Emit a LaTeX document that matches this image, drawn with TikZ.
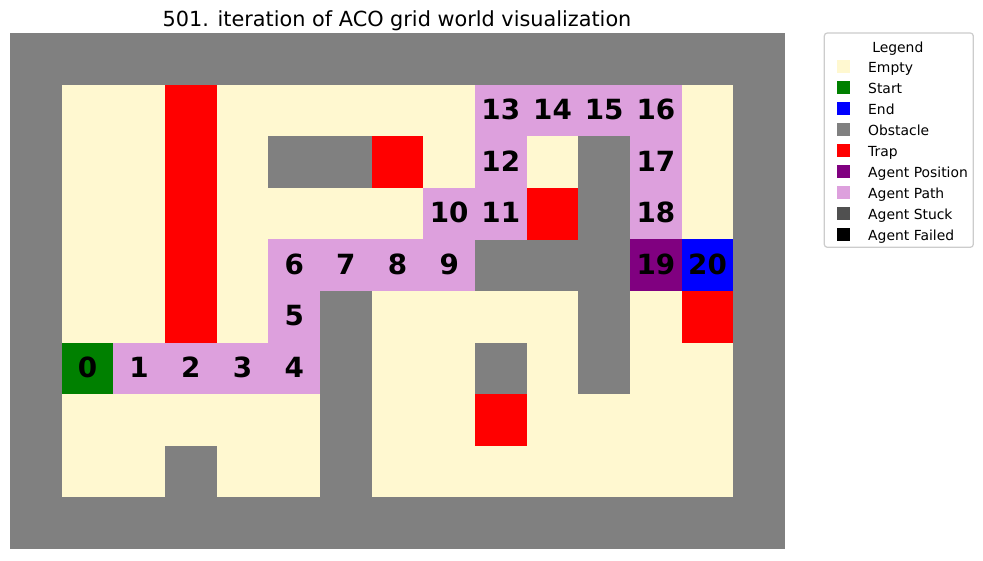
\documentclass[tikz,border=0pt]{standalone}
\usepackage{fontspec}
\setmainfont{DejaVu Sans}
\definecolor{emptyc}{HTML}{FFF8D0}
\definecolor{startc}{HTML}{008000}
\definecolor{endc}{HTML}{0000FF}
\definecolor{obstc}{HTML}{808080}
\definecolor{trapc}{HTML}{FF0000}
\definecolor{posc}{HTML}{800080}
\definecolor{pathc}{HTML}{DDA0DD}
\definecolor{stuckc}{HTML}{505050}
\definecolor{failc}{HTML}{000000}
\definecolor{legframe}{HTML}{CCCCCC}
\newcommand\gcell[4]{%
  \node[cell,fill=#3] (c#1x#2) at ({10+51.667*(#2+0.5)},{33+51.6*(#1+0.5)}) {#4};}
\begin{document}
\begin{tikzpicture}[x=1pt,y=-1pt,
  cell/.style={rectangle,minimum width=51.9pt,minimum height=51.8pt,inner sep=0pt,outer sep=0pt,
    text height=20.3pt,text depth=2pt,font=\fontsize{27.8}{30}\selectfont\bfseries,text=black},
  legsq/.style={rectangle,minimum width=12.5pt,minimum height=12.5pt,inner sep=0pt},
  legtxt/.style={inner sep=0pt,font=\fontsize{13.9}{16}\selectfont,anchor=base west},
  titletxt/.style={inner sep=0pt,font=\fontsize{20.8}{24}\selectfont,anchor=base}]
\useasboundingbox (0,0) rectangle (983,560);
\fill[white] (0,0) rectangle (983,560);
% title
\node[titletxt] (title) at (397,26.5) {501. iteration of ACO grid world visualization};
% grid background
\fill[obstc] (10,33) rectangle (785,549);
\fill[emptyc] (61.667,84.6) rectangle (733.333,497.4);
% obstacles
\foreach \r/\c in {2/5,2/6,2/11,3/11,4/9,4/10,4/11,5/6,5/11,6/6,6/9,6/11,7/6,8/3,8/6}
  {\gcell{\r}{\c}{obstc}{}}
% traps
\foreach \r/\c in {1/3,2/3,3/3,4/3,5/3,2/7,3/10,5/13,7/9}
  {\gcell{\r}{\c}{trapc}{}}
% start
\gcell{6}{1}{startc}{0}
% path
\foreach \r/\c/\n in {6/2/1,6/3/2,6/4/3,6/5/4,5/5/5,4/5/6,4/6/7,4/7/8,4/8/9,3/8/10,3/9/11,2/9/12,1/9/13,1/10/14,1/11/15,1/12/16,2/12/17,3/12/18}
  {\gcell{\r}{\c}{pathc}{\n}}
% agent position and end
\gcell{4}{12}{posc}{19}
\gcell{4}{13}{endc}{20}
% legend
\draw[legframe,line width=1.2pt,fill=white,rounded corners=3pt] (824.3,33) rectangle (973.3,247.3);
\node[titletxt,font=\fontsize{13.9}{16}\selectfont] (legtitle) at (897.8,52) {Legend};
\foreach \col/\txt [count=\i from 0] in {emptyc/Empty,startc/Start,endc/End,obstc/Obstacle,trapc/Trap,posc/Agent Position,pathc/Agent Path,stuckc/Agent Stuck,failc/Agent Failed}
{
  \node[legsq,fill=\col] (sq\i) at (843.5,{66.5+21*\i}) {};
  \node[legtxt] (lt\i) at (868,{72.2+21*\i}) {\txt};
}
\end{tikzpicture}
\end{document}
